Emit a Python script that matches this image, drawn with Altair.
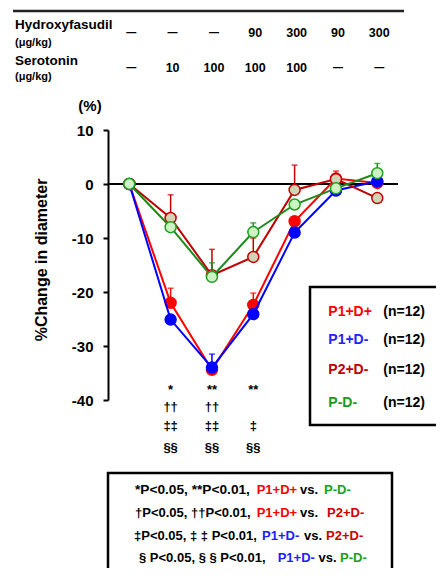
import altair as alt
import pandas as pd

# ---------------- data ----------------
idx = [0, 1, 2, 3, 4, 5, 6]
red_vals = [0, -22.0, -34.4, -22.4, -6.9, 1.0, 0.2]
red_err = [None, -19.3, None, -20.2, None, 2.4, None]
blue_vals = [0, -25.1, -34.0, -24.1, -9.0, -1.2, 0.5]
blue_err = [None, None, -31.5, None, None, None, None]
dred_vals = [0, -6.3, -16.9, -13.5, -1.1, 0.9, -2.6]
dred_err = [None, -2.0, -12.1, -10.0, 3.5, None, None]
green_vals = [0, -8.0, -17.2, -8.9, -3.8, -0.8, 2.0]
green_err = [None, None, -14.6, -7.2, None, None, 3.8]

y_ticks = [10, 0, -10, -20, -30, -40]
hf_row = ["—", "—", "—", "90", "300", "90", "300"]
sero_row = ["—", "10", "100", "100", "100", "—", "—"]

sig_cols = [1, 2, 3]
sig_rows = [["*", "††", "‡‡", "§§"], ["**", "††", "‡‡", "§§"], ["**", "", "‡", "§§"]]

legend_names = ["P1+D+", "P1+D-", "P2+D-", "P-D-"]
legend_colors = ["#ff0000", "#2222ff", "#c00000", "#1a9a1a"]

FONT = "Liberation Sans"
W, H = 290, 270
xs = alt.Scale(domain=[-0.515, 6.501], nice=False, zero=False)
ys = alt.Scale(domain=[-40, 10], nice=False, zero=False)

series = [
    (red_vals, red_err, "#ff0000", "#ff0000", "#ff0000"),
    (blue_vals, blue_err, "#0000ff", "#0000ff", "#0000ff"),
    (dred_vals, dred_err, "#c00000", "#d2d3b3", "#c00000"),
    (green_vals, green_err, "#1a8c1a", "#cdf2c4", "#1ea01e"),
]

X = alt.X("i:Q", scale=xs, axis=None)
layers = []

# zero line
zdf = pd.DataFrame({"z": [0]})
layers.append(alt.Chart(zdf).mark_rule(color="black", strokeWidth=2).encode(
    y=alt.Y("z:Q", scale=ys, axis=None), x=alt.value(0), x2=alt.value(W)))

# y axis layer
adf = pd.DataFrame({"i": idx, "v": red_vals})
layers.append(alt.Chart(adf).mark_point(opacity=0).encode(
    x=X,
    y=alt.Y("v:Q", scale=ys, axis=alt.Axis(
        values=y_ticks, labelExpr="'' + datum.value", labelFont=FONT, labelFontSize=15,
        labelFontWeight="bold", labelColor="black", domainColor="black", domainWidth=2,
        tickColor="black", tickWidth=2, tickSize=5, labelPadding=10, grid=False, title=None))))

for vals, errs, lc, fill, stroke in series:
    df = pd.DataFrame({"i": idx, "v": vals, "e": errs})
    edf = df.dropna()
    Y = alt.Y("v:Q", scale=ys, axis=None)
    layers.append(alt.Chart(df).mark_line(color=lc, strokeWidth=2).encode(x=X, y=Y))
    layers.append(alt.Chart(edf).mark_rule(color=lc, strokeWidth=1.5).encode(x=X, y=Y, y2="e:Q"))
    layers.append(alt.Chart(edf).mark_tick(orient="horizontal", color=lc, size=6, thickness=1.5).encode(
        x=X, y=alt.Y("e:Q", scale=ys, axis=None)))
    layers.append(alt.Chart(df).mark_circle(color=fill, stroke=stroke, strokeWidth=1.5, size=120, opacity=1).encode(
        x=X, y=Y))

# --------- annotations in pixel space ---------
def txt(df, size, align="left", weight="bold", angle=0):
    return alt.Chart(df).mark_text(font=FONT, fontSize=size, fontWeight=weight, align=align,
                                   baseline="middle", angle=angle).encode(
        x=alt.X("px:Q", scale=None), y=alt.Y("py:Q", scale=None),
        text="t:N", color=alt.Color("c:N", scale=None))

# top table line
layers.append(alt.Chart(zdf).mark_rule(color="#222222", strokeWidth=2.5).encode(
    x=alt.value(-95), x2=alt.value(296), y=alt.value(-119)))

layers.append(txt(pd.DataFrame({"t": ["Hydroxyfasudil", "Serotonin"], "px": [-93, -93], "py": [-105, -69],
                                "c": ["black", "black"]}), 13.5))
layers.append(txt(pd.DataFrame({"t": ["(μg/kg)", "(μg/kg)"], "px": [-93, -93], "py": [-87, -53],
                                "c": ["black", "black"]}), 11))

rows = []
for i, t in enumerate(hf_row):
    rows.append({"i": i, "t": t, "py": -97})
for i, t in enumerate(sero_row):
    rows.append({"i": i, "t": t, "py": -62})
rdf = pd.DataFrame(rows)
for dash, size in [(True, 10), (False, 12.5)]:
    sub = rdf[(rdf["t"] == "—") == dash]
    layers.append(alt.Chart(sub).mark_text(font=FONT, fontSize=size, fontWeight="bold", align="center",
                                           baseline="middle", dx=2, color="black").encode(
        x=X, y=alt.Y("py:Q", scale=None), text="t:N"))

# (%) and y title
layers.append(txt(pd.DataFrame({"t": ["(%)"], "px": [-18], "py": [-24], "c": ["black"]}), 15, align="center"))
layers.append(txt(pd.DataFrame({"t": ["%Change in diameter"], "px": [-66], "py": [130], "c": ["black"]}),
                  16, align="center", angle=270))

# significance marks
srows = []
sig_y = [260, 277, 296, 318]
for col, marks in zip(sig_cols, sig_rows):
    for k, m in enumerate(marks):
        if m:
            srows.append({"i": col, "t": m, "py": sig_y[k]})
layers.append(alt.Chart(pd.DataFrame(srows)).mark_text(font=FONT, fontSize=13, fontWeight="bold",
                                                       align="center", baseline="middle", color="black").encode(
    x=X, y=alt.Y("py:Q", scale=None), text="t:N"))

# legend box
layers.append(alt.Chart(zdf).mark_rect(fill="white", stroke="black", strokeWidth=2.5).encode(
    x=alt.value(202), x2=alt.value(345), y=alt.value(157), y2=alt.value(295)))
leg_y = [181.7, 210, 240, 273.3]
layers.append(txt(pd.DataFrame({"t": legend_names, "px": [220.3] * 4, "py": leg_y, "c": legend_colors}), 14))
layers.append(txt(pd.DataFrame({"t": ["(n=12)"] * 4, "px": [275.3] * 4, "py": leg_y, "c": ["black"] * 4}), 14))

# bottom box
layers.append(alt.Chart(zdf).mark_rect(fill="white", stroke="black", strokeWidth=2.5).encode(
    x=alt.value(0), x2=alt.value(284), y=alt.value(343), y2=alt.value(480)))
R, G, DR, B, K = "#ff0000", "#1aa01a", "#cc0000", "#2020ff", "black"
seg_text = ["*P<0.05, **P<0.01,", "P1+D+", "vs.", "P-D-",
            "†P<0.05, ††P<0.01,", "P1+D+", "vs.", "P2+D-",
            "‡P<0.05, ‡ ‡ P<0.01,", "P1+D-", "vs.", "P2+D-",
            "§ P<0.05,  § § P<0.01,", "P1+D-", "vs.", "P-D-"]
seg_color = [K, R, K, G, K, R, K, DR, K, B, K, DR, K, B, K, G]
seg_size = [13.7, 13, 13, 13, 13, 13, 13, 13, 13, 13, 13, 13, 13, 13, 13, 13]
seg_x = [27, 148.7, 192, 216,
         27, 148.7, 192, 219,
         26, 154, 196, 218,
         31, 169.7, 210.5, 232]
line_y = [360, 383, 406, 428]
seg_y = [y for y in line_y for _ in range(4)]
bdf = pd.DataFrame({"t": seg_text, "c": seg_color, "px": seg_x, "py": seg_y, "s": seg_size})
layers.append(alt.Chart(bdf).mark_text(font=FONT, fontWeight="bold", align="left", baseline="middle").encode(
    x=alt.X("px:Q", scale=None), y=alt.Y("py:Q", scale=None), text="t:N",
    color=alt.Color("c:N", scale=None), size=alt.Size("s:Q", scale=None)))

chart = alt.layer(*layers).resolve_scale(x="independent", y="independent").properties(
    width=W, height=H,
    autosize=alt.AutoSizeParams(type="none"),
    padding={"left": 100, "top": 122, "right": 38, "bottom": 168},
    background="white",
).configure_view(stroke=None)

chart.save("out.html", embed_options={"renderer": "svg", "actions": False})
